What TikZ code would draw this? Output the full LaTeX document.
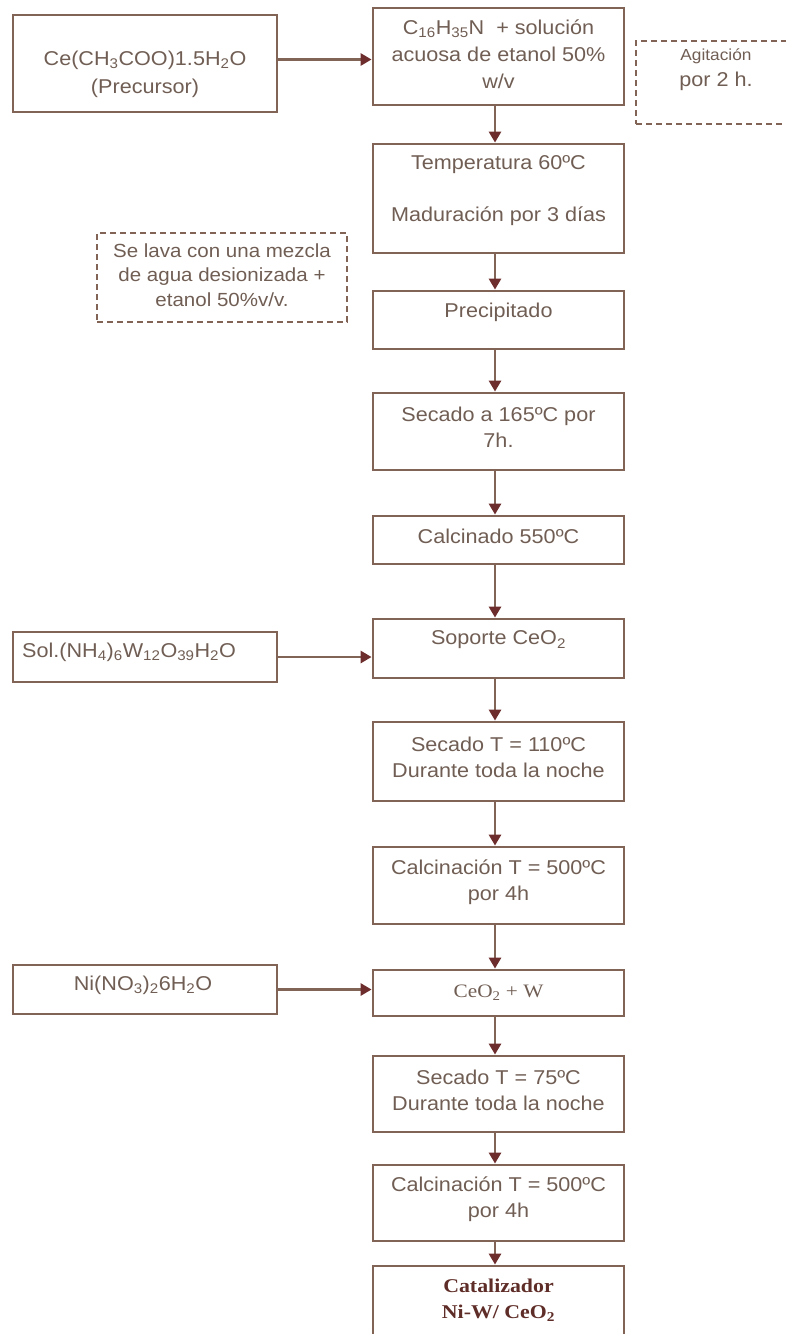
\documentclass[tikz,border=0pt]{standalone}
\usepackage{fontspec}
\setmainfont{Liberation Sans}[FakeStretch=1.08]
\newfontfamily\catfont{Liberation Serif}[FakeStretch=1.12]
\usetikzlibrary{arrows.meta}
\definecolor{linec}{RGB}{130,100,86}
\definecolor{txtc}{RGB}{112,94,84}
\definecolor{headc}{RGB}{110,45,45}
\definecolor{catc}{RGB}{95,45,40}
\newcommand{\sub}[1]{\textsubscript{#1}}
\begin{document}
\begin{tikzpicture}[x=1pt,y=-1pt,
  box/.style={draw=linec,line width=2.8pt,inner sep=0pt,minimum width=251pt},
  lbox/.style={draw=linec,line width=2.8pt,inner sep=0pt,minimum width=264pt},
  dbox/.style={draw=linec,line width=2pt,dash pattern=on 6pt off 4pt,inner sep=0pt},
  txt/.style={text=txtc,font=\fontsize{20}{26}\selectfont,align=center,inner sep=0pt},
  arr/.style={draw=linec,line width=2.8pt,-{Triangle[width=12pt,length=11pt,color=headc]}}]
\useasboundingbox (0,0) rectangle (786,1334);
% main column boxes
\node[box,minimum height=97pt]  (b1)  at (498.5,56.5) {};
\node[box,minimum height=109pt] (b2)  at (498.5,198.5) {};
\node[box,minimum height=58pt]  (b3)  at (498.5,320) {};
\node[box,minimum height=77pt]  (b4)  at (498.5,431.5) {};
\node[box,minimum height=48pt]  (b5)  at (498.5,540) {};
\node[box,minimum height=59pt]  (b6)  at (498.5,648.5) {};
\node[box,minimum height=79pt]  (b7)  at (498.5,761.5) {};
\node[box,minimum height=77pt]  (b8)  at (498.5,885.5) {};
\node[box,minimum height=46pt]  (b9)  at (498.5,993) {};
\node[box,minimum height=76pt]  (b10) at (498.5,1094) {};
\node[box,minimum height=76pt]  (b11) at (498.5,1203) {};
\node[box,minimum height=84pt]  (b12) at (498.5,1308) {};
% left boxes
\node[lbox,minimum height=97pt] (p) at (145,63.5) {};
\node[lbox,minimum height=50pt] (s) at (145,657) {};
\node[lbox,minimum height=49pt] (n) at (145,989.5) {};
% dashed notes
\node[dbox,minimum width=164pt,minimum height=83pt] (ag) at (718,82.5) {};
\node[dbox,minimum width=250pt,minimum height=89pt] (lv) at (222,277.5) {};
% texts
\node[txt,font=\fontsize{20}{27}\selectfont] (t1) at (498.5,54) {C\sub{16}H\sub{35}N\ \ + solución\\acuosa de etanol 50\%\\w/v};
\node[txt] (t2) at (498.5,191) {Temperatura 60ºC\\[26pt]Maduración por 3 días};
\node[txt] (t3) at (498.5,312) {Precipitado};
\node[txt] (t4) at (498.5,427) {Secado a 165ºC por\\7h.};
\node[txt] (t5) at (498.5,536) {Calcinado 550ºC};
\node[txt] (t6) at (498.5,640) {Soporte CeO\sub{2}};
\node[txt] (t7) at (498.5,757) {Secado T = 110ºC\\Durante toda la noche};
\node[txt] (t8) at (498.5,882) {Calcinación T = 500ºC\\por 4h};
\node[txt,font=\catfont\fontsize{19}{24}\selectfont] (t9) at (498.5,993) {CeO\sub{2} + W};
\node[txt] (t10) at (498.5,1090) {Secado T = 75ºC\\Durante toda la noche};
\node[txt] (t11) at (498.5,1199) {Calcinación T = 500ºC\\por 4h};
\node[txt,text=catc,font=\catfont\bfseries\fontsize{19.5}{26}\selectfont] (t12) at (498.5,1300) {Catalizador\\Ni-W/ CeO\sub{2}};
\node[txt,font=\fontsize{20}{28}\selectfont] (tp) at (145,74) {Ce(CH\sub{3}COO)1.5H\sub{2}O\\(Precursor)};
\node[txt,anchor=west] (ts) at (22,652) {Sol.(NH\sub{4})\sub{6}W\sub{12}O\sub{39}H\sub{2}O};
\node[txt] (tn) at (143,985) {Ni(NO\sub{3})\sub{2}6H\sub{2}O};
\node[txt] (ta) at (716,70) {{\fontsize{16}{20}\selectfont Agitación}\\por 2 h.};
\node[txt,font=\fontsize{19}{24.5}\selectfont] (tl) at (222,275) {Se lava con una mezcla\\de agua desionizada +\\etanol 50\%v/v.};
% arrows
\draw[arr] ([yshift=4pt]p.east) -- ([yshift=4pt]p.east -| b1.west);
\draw[arr] (s.east) -- (s.east -| b6.west);
\draw[arr] (n.east) -- (n.east -| b9.west);
\foreach \a/\b in {b1/b2,b2/b3,b3/b4,b4/b5,b5/b6,b6/b7,b7/b8,b8/b9,b9/b10,b10/b11,b11/b12}
  \draw[arr] ([xshift=-3.5pt]\a.south) -- ([xshift=-3.5pt]\b.north);
\end{tikzpicture}
\end{document}
